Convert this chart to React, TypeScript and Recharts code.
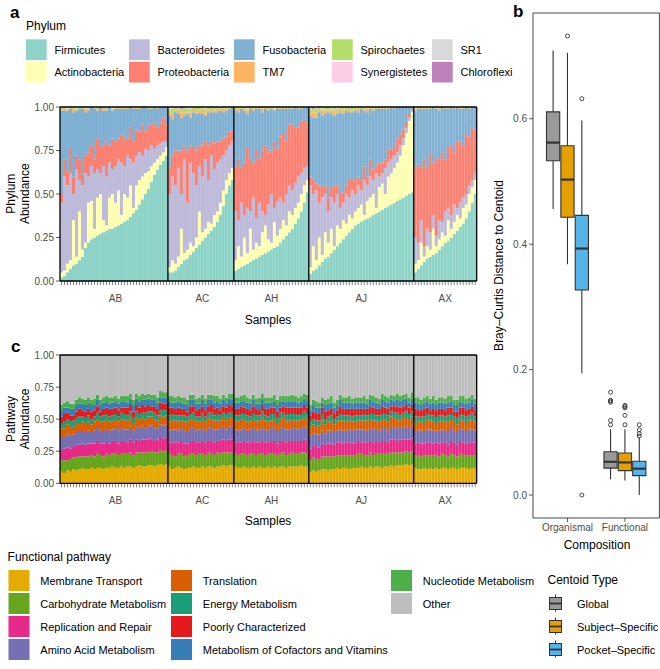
import React from 'react';
import { BarChart, Bar, XAxis, YAxis, ReferenceArea, ReferenceLine, ComposedChart, Scatter } from 'recharts';

const FONT = '"Liberation Sans", Arial, Helvetica, sans-serif';

// ---------------- facets (subjects) ----------------
const facets = ['AB', 'AC', 'AH', 'AJ', 'AX'];

// ---------------- panel a: phylum relative abundance (percent) ----------------
const phylumNames = ['Firmicutes', 'Actinobacteria', 'Bacteroidetes', 'Proteobacteria', 'Fusobacteria', 'TM7', 'Spirochaetes', 'Synergistetes', 'SR1', 'Chloroflexi'];
const phylumColors = ['#8DD3C7', '#FFFFB3', '#BEBADA', '#FB8072', '#80B1D3', '#FDB462', '#B3DE69', '#FCCDE5', '#D9D9D9', '#BC80BD'];

const firmicutes: Record<string, number[]> = {
  AB: [2, 3, 5, 7, 9, 10, 12, 14, 19, 22, 24, 25, 26, 27, 28, 29, 30, 30, 31, 32, 33, 34, 35, 37, 39, 41, 44, 47, 50, 53, 57, 61, 64, 67, 69, 72],
  AC: [5, 5, 6, 8, 10, 12, 13, 15, 17, 19, 21, 23, 25, 27, 29, 31, 34, 38, 43, 50, 55, 58],
  AH: [6, 7, 8, 9, 10, 11, 12, 13, 14, 15, 16, 17, 18, 19, 20, 22, 24, 26, 28, 30, 33, 36, 40, 45, 51],
  AJ: [4, 6, 7, 9, 11, 13, 14, 16, 18, 20, 22, 24, 26, 28, 30, 32, 33, 34, 35, 36, 37, 38, 39, 40, 41, 42, 43, 44, 45, 46, 47, 48, 49, 50, 51],
  AX: [5, 7, 9, 11, 13, 14, 15, 16, 18, 20, 22, 23, 25, 27, 29, 31, 33, 36, 40, 45, 50],
};
const actinobacteria: Record<string, number[]> = {
  AB: [3, 3, 5, 5, 26, 4, 28, 4, 3, 23, 22, 5, 22, 23, 7, 3, 18, 20, 14, 20, 5, 16, 13, 18, 3, 14, 14, 13, 12, 10, 9, 7, 6, 5, 5, 5],
  AC: [3, 7, 4, 6, 20, 4, 5, 7, 3, 6, 19, 5, 5, 7, 4, 7, 6, 7, 9, 8, 7, 7],
  AH: [6, 13, 6, 16, 6, 19, 6, 9, 6, 13, 16, 7, 4, 15, 6, 8, 11, 6, 12, 8, 9, 9, 10, 10, 7],
  AJ: [4, 14, 5, 16, 4, 15, 8, 14, 2, 12, 8, 11, 7, 10, 6, 8, 9, 10, 3, 10, 11, 12, 3, 14, 15, 8, 17, 18, 20, 22, 25, 30, 36, 42, 46],
  AX: [5, 5, 13, 3, 7, 4, 15, 4, 6, 8, 4, 12, 5, 7, 9, 5, 9, 8, 10, 9, 8],
};
const bacteroidetes: Record<string, number[]> = {
  AB: [40, 54, 45, 50, 15, 50, 18, 37, 40, 15, 20, 32, 16, 12, 31, 28, 20, 14, 21, 18, 30, 16, 24, 15, 26, 17, 16, 12, 14, 12, 12, 8, 8, 7, 6, 3],
  AC: [42, 48, 45, 51, 20, 54, 27, 46, 42, 30, 26, 32, 40, 24, 39, 26, 28, 25, 20, 17, 16, 15],
  AH: [28, 15, 31, 13, 26, 10, 30, 14, 25, 12, 6, 20, 28, 8, 20, 18, 10, 18, 15, 14, 14, 15, 12, 10, 8],
  AJ: [47, 30, 40, 20, 33, 22, 18, 18, 25, 18, 12, 10, 17, 10, 16, 10, 13, 8, 20, 9, 12, 8, 20, 6, 6, 15, 8, 8, 7, 6, 6, 4, 3, 2, 1],
  AX: [15, 10, 13, 6, 10, 10, 8, 6, 11, 6, 14, 7, 8, 10, 4, 9, 6, 6, 5, 4, 4],
};
const proteobacteria: Record<string, number[]> = {
  AB: [5, 10, 8, 15, 10, 8, 12, 6, 10, 14, 12, 8, 18, 15, 12, 20, 10, 18, 14, 12, 16, 15, 10, 18, 12, 15, 12, 18, 10, 14, 12, 15, 10, 12, 14, 10],
  AC: [15, 12, 20, 10, 25, 8, 30, 10, 15, 20, 12, 18, 10, 20, 8, 15, 12, 10, 10, 8, 8, 6],
  AH: [25, 35, 20, 30, 35, 30, 20, 40, 25, 35, 40, 30, 25, 38, 30, 35, 40, 30, 35, 38, 32, 28, 30, 28, 25],
  AJ: [5, 8, 4, 10, 6, 5, 8, 6, 10, 5, 8, 6, 5, 10, 6, 8, 5, 6, 8, 5, 10, 6, 5, 8, 6, 5, 8, 6, 5, 8, 6, 5, 4, 2, 1],
  AX: [40, 45, 30, 50, 35, 45, 30, 45, 35, 40, 30, 35, 40, 30, 38, 35, 30, 35, 28, 30, 25],
};
const tm7: Record<string, number[]> = {
  AB: [1, 2, 0, 1, 2, 1, 0, 1, 2, 1, 0, 1, 1, 0, 2, 1, 0, 1, 0, 1, 1, 0, 1, 0, 1, 0, 1, 0, 0, 1, 0, 0, 1, 0, 0, 0],
  AC: [2, 3, 1, 2, 3, 2, 1, 3, 2, 1, 2, 3, 2, 1, 2, 1, 2, 1, 2, 1, 1, 0],
  AH: [1, 2, 1, 1, 2, 1, 1, 0, 1, 2, 1, 1, 0, 1, 1, 0, 1, 1, 0, 1, 0, 1, 0, 0, 0],
  AJ: [2, 3, 2, 1, 3, 2, 1, 2, 3, 1, 2, 2, 1, 2, 1, 1, 2, 1, 1, 2, 1, 1, 0, 1, 1, 0, 1, 0, 1, 0, 0, 0, 0, 0, 0],
  AX: [1, 0, 1, 1, 0, 1, 0, 1, 1, 0, 1, 0, 0, 1, 0, 1, 0, 0, 1, 0, 0],
};
const spirochaetes: Record<string, number[]> = {
  AB: [1, 0, 1, 0, 1, 0, 1, 0, 0, 1, 0, 0, 1, 0, 0, 1, 0, 0, 1, 0, 0, 1, 0, 0, 0, 1, 0, 0, 0, 0, 1, 0, 0, 0, 0, 0],
  AC: [2, 3, 2, 1, 2, 3, 2, 2, 1, 3, 2, 1, 2, 2, 1, 2, 1, 1, 1, 1, 0, 0],
  AH: [1, 1, 0, 1, 1, 0, 1, 1, 0, 1, 0, 1, 1, 0, 0, 1, 0, 0, 1, 0, 0, 0, 1, 0, 0],
  AJ: [2, 2, 3, 2, 1, 2, 2, 1, 2, 2, 1, 2, 1, 1, 2, 1, 1, 0, 1, 1, 0, 1, 1, 0, 0, 1, 0, 0, 0, 0, 0, 0, 0, 0, 0],
  AX: [0, 1, 0, 0, 1, 0, 0, 0, 1, 0, 0, 1, 0, 0, 0, 0, 1, 0, 0, 0, 0],
};
const synergistetes: Record<string, number[]> = {
  AB: [0, 0, 1, 0, 0, 0, 0, 0, 1, 0, 0, 0, 0, 0, 0, 0, 0, 1, 0, 0, 0, 0, 0, 0, 0, 0, 0, 0, 0, 0, 0, 0, 0, 0, 0, 0],
  AC: [1, 0, 0, 1, 0, 0, 0, 1, 0, 0, 0, 0, 1, 0, 0, 0, 0, 0, 0, 0, 0, 0],
  AH: [0, 0, 0, 0, 1, 0, 0, 0, 0, 0, 0, 0, 0, 1, 0, 0, 0, 0, 0, 0, 0, 0, 0, 0, 0],
  AJ: [1, 0, 0, 0, 1, 0, 0, 0, 0, 1, 0, 0, 0, 0, 0, 0, 0, 0, 0, 0, 0, 0, 0, 0, 0, 0, 0, 0, 0, 0, 0, 0, 0, 0, 0],
  AX: [1, 0, 0, 0, 0, 0, 0, 0, 0, 0, 0, 0, 0, 0, 0, 0, 0, 0, 0, 0, 0],
};
const sr1: Record<string, number[]> = {
  AB: [0, 0, 0, 0, 0, 1, 0, 0, 0, 0, 0, 0, 0, 0, 0, 0, 0, 0, 0, 0, 0, 0, 0, 0, 0, 0, 0, 0, 0, 0, 0, 0, 0, 0, 0, 0],
  AC: [0, 1, 0, 0, 0, 0, 1, 0, 0, 0, 0, 0, 0, 0, 0, 0, 0, 0, 0, 0, 0, 0],
  AH: [0, 0, 0, 0, 0, 0, 0, 0, 0, 0, 0, 0, 0, 0, 0, 0, 0, 0, 0, 0, 0, 0, 0, 0, 0],
  AJ: [0, 0, 1, 0, 0, 0, 0, 1, 0, 0, 0, 0, 0, 0, 0, 0, 0, 0, 0, 0, 0, 0, 0, 0, 0, 0, 0, 0, 0, 0, 0, 0, 0, 0, 0],
  AX: [0, 0, 0, 0, 0, 0, 0, 0, 0, 0, 0, 0, 0, 0, 0, 0, 0, 0, 0, 0, 0],
};
const chloroflexi: Record<string, number[]> = {
  AB: [0, 0, 0, 0, 0, 0, 0, 0, 0, 0, 0, 0, 0, 0, 0, 0, 0, 0, 0, 0, 0, 0, 0, 0, 0, 0, 0, 0, 0, 0, 0, 0, 0, 0, 0, 0],
  AC: [0, 0, 0, 0, 1, 0, 0, 0, 0, 0, 0, 0, 0, 0, 0, 0, 0, 0, 0, 0, 0, 0],
  AH: [0, 0, 0, 0, 0, 0, 0, 0, 0, 0, 0, 0, 0, 0, 0, 0, 0, 0, 0, 0, 0, 0, 0, 0, 0],
  AJ: [0, 1, 0, 0, 0, 0, 0, 0, 0, 0, 0, 0, 0, 0, 0, 0, 0, 0, 0, 0, 0, 0, 0, 0, 0, 0, 0, 0, 0, 0, 0, 0, 0, 0, 0],
  AX: [0, 0, 0, 0, 0, 0, 0, 0, 0, 0, 0, 0, 0, 0, 0, 0, 0, 0, 0, 0, 0],
};

// ---------------- panel c: functional pathway abundance (percent) ----------------
const pathwayNames = ['Membrane Transport', 'Carbohydrate Metabolism', 'Replication and Repair', 'Amino Acid Metabolism', 'Translation', 'Energy Metabolism', 'Poorly Characterized', 'Metabolism of Cofactors and Vitamins', 'Nucleotide Metabolism', 'Other'];
const pathwayColors = ['#E6AB02', '#66A61E', '#E7298A', '#7570B3', '#D95F02', '#1B9E77', '#E41A1C', '#377EB8', '#4DAF4A', '#BEBEBE'];

const membraneTransport: Record<string, number[]> = {
  AB: [9, 8, 10, 9, 11, 10, 11, 12, 11, 11, 12, 11, 12, 12, 11, 12, 12, 13, 12, 12, 13, 12, 13, 13, 12, 13, 14, 13, 13, 14, 14, 13, 14, 15, 14, 15],
  AC: [13, 11, 12, 13, 12, 11, 12, 12, 13, 12, 12, 13, 12, 13, 13, 12, 13, 13, 14, 13, 14, 14],
  AH: [13, 12, 12, 13, 12, 12, 13, 12, 13, 12, 12, 13, 12, 13, 12, 13, 13, 12, 13, 13, 13, 13, 14, 13, 13],
  AJ: [9, 10, 9, 10, 11, 11, 10, 11, 11, 12, 11, 12, 12, 11, 12, 12, 12, 13, 12, 12, 13, 12, 13, 13, 12, 13, 13, 14, 13, 14, 14, 14, 15, 14, 15],
  AX: [12, 11, 11, 12, 11, 12, 11, 12, 11, 12, 12, 11, 12, 12, 11, 12, 12, 12, 11, 12, 12],
};
const carbohydrate: Record<string, number[]> = {
  AB: [9, 10, 8, 10, 9, 10, 10, 9, 10, 10, 10, 10, 11, 10, 10, 11, 10, 10, 11, 10, 10, 11, 10, 11, 10, 11, 10, 11, 11, 10, 11, 11, 10, 11, 11, 11],
  AC: [10, 11, 9, 10, 11, 10, 10, 11, 10, 10, 11, 10, 10, 11, 10, 10, 11, 10, 10, 11, 10, 10],
  AH: [10, 10, 11, 10, 10, 11, 10, 10, 10, 11, 10, 10, 11, 10, 10, 10, 11, 10, 10, 11, 10, 10, 10, 11, 10],
  AJ: [9, 10, 10, 9, 10, 10, 11, 10, 10, 10, 11, 10, 10, 11, 10, 10, 11, 10, 10, 10, 11, 10, 10, 10, 11, 10, 10, 10, 11, 10, 10, 10, 10, 10, 10],
  AX: [10, 11, 10, 10, 11, 10, 11, 10, 10, 11, 10, 10, 11, 10, 10, 11, 10, 10, 11, 10, 10],
};
const replication: Record<string, number[]> = {
  AB: [8, 9, 10, 8, 9, 10, 9, 10, 9, 10, 9, 10, 10, 9, 10, 10, 9, 10, 10, 9, 10, 10, 9, 10, 10, 10, 9, 10, 10, 10, 10, 9, 10, 10, 10, 10],
  AC: [9, 10, 11, 9, 10, 10, 9, 10, 10, 10, 9, 10, 10, 9, 10, 10, 9, 10, 10, 9, 10, 10],
  AH: [9, 10, 9, 10, 10, 9, 10, 10, 9, 10, 10, 9, 10, 10, 9, 10, 9, 10, 10, 9, 10, 10, 9, 10, 10],
  AJ: [9, 9, 10, 9, 10, 9, 10, 10, 9, 10, 10, 9, 10, 10, 9, 10, 10, 9, 10, 10, 9, 10, 10, 9, 10, 10, 9, 10, 10, 9, 10, 10, 9, 10, 10],
  AX: [9, 10, 10, 9, 10, 10, 9, 10, 10, 9, 10, 9, 10, 10, 9, 10, 10, 9, 10, 10, 10],
};
const aminoAcid: Record<string, number[]> = {
  AB: [10, 9, 10, 10, 9, 10, 10, 9, 10, 10, 9, 10, 10, 10, 9, 10, 10, 9, 10, 10, 10, 9, 10, 10, 9, 10, 10, 10, 9, 10, 10, 10, 9, 10, 10, 10],
  AC: [9, 10, 10, 9, 10, 10, 9, 10, 10, 9, 10, 10, 9, 10, 10, 10, 9, 10, 10, 9, 10, 10],
  AH: [10, 9, 10, 10, 9, 10, 10, 9, 10, 10, 10, 9, 10, 10, 9, 10, 10, 10, 9, 10, 10, 9, 10, 10, 10],
  AJ: [10, 10, 9, 10, 10, 9, 10, 10, 10, 9, 10, 10, 9, 10, 10, 10, 9, 10, 10, 9, 10, 10, 10, 9, 10, 10, 9, 10, 10, 10, 9, 10, 10, 9, 10],
  AX: [9, 10, 10, 9, 10, 10, 10, 9, 10, 10, 9, 10, 10, 9, 10, 10, 10, 9, 10, 10, 9],
};
const translation: Record<string, number[]> = {
  AB: [7, 7, 8, 7, 6, 7, 7, 8, 7, 7, 6, 7, 7, 7, 8, 7, 7, 6, 7, 7, 7, 8, 7, 7, 6, 7, 7, 7, 7, 8, 7, 7, 6, 7, 7, 7],
  AC: [7, 8, 7, 7, 6, 7, 8, 7, 7, 7, 6, 7, 7, 8, 7, 7, 7, 6, 7, 7, 7, 7],
  AH: [7, 7, 8, 7, 7, 6, 7, 7, 7, 8, 7, 7, 6, 7, 7, 7, 8, 7, 7, 7, 6, 7, 7, 7, 7],
  AJ: [7, 7, 6, 7, 8, 7, 7, 7, 6, 7, 7, 8, 7, 7, 7, 6, 7, 7, 7, 8, 7, 7, 6, 7, 7, 7, 7, 8, 7, 7, 6, 7, 7, 7, 7],
  AX: [7, 6, 7, 7, 8, 7, 7, 6, 7, 7, 7, 8, 7, 7, 6, 7, 7, 7, 7, 8, 7],
};
const energy: Record<string, number[]> = {
  AB: [4, 5, 4, 4, 5, 4, 5, 4, 4, 5, 4, 4, 5, 4, 5, 4, 4, 5, 4, 4, 5, 4, 4, 5, 4, 5, 4, 4, 5, 4, 4, 5, 4, 4, 5, 4],
  AC: [5, 4, 4, 5, 4, 5, 4, 4, 5, 4, 4, 5, 4, 4, 5, 4, 5, 4, 4, 5, 4, 4],
  AH: [4, 5, 4, 4, 5, 4, 4, 5, 4, 5, 4, 4, 5, 4, 4, 5, 4, 4, 5, 4, 5, 4, 4, 5, 4],
  AJ: [4, 4, 5, 4, 5, 4, 4, 5, 4, 4, 5, 4, 5, 4, 4, 5, 4, 4, 5, 4, 4, 5, 4, 5, 4, 4, 5, 4, 4, 5, 4, 4, 5, 4, 4],
  AX: [5, 4, 4, 5, 4, 4, 5, 4, 5, 4, 4, 5, 4, 4, 5, 4, 4, 5, 4, 5, 4],
};
const poorlyCharacterized: Record<string, number[]> = {
  AB: [5, 6, 5, 5, 4, 5, 6, 5, 5, 5, 6, 5, 5, 4, 5, 5, 6, 5, 5, 5, 4, 5, 6, 5, 5, 5, 5, 6, 5, 5, 4, 5, 5, 6, 5, 5],
  AC: [6, 5, 5, 6, 5, 5, 4, 6, 5, 5, 6, 5, 5, 5, 6, 5, 5, 4, 5, 5, 6, 5],
  AH: [5, 5, 6, 5, 5, 5, 6, 5, 4, 5, 5, 6, 5, 5, 5, 4, 5, 6, 5, 5, 5, 6, 5, 5, 5],
  AJ: [5, 6, 5, 5, 5, 6, 5, 5, 4, 5, 6, 5, 5, 5, 6, 5, 5, 5, 4, 5, 6, 5, 5, 5, 6, 5, 5, 4, 5, 5, 6, 5, 5, 5, 5],
  AX: [6, 5, 5, 6, 5, 4, 5, 6, 5, 5, 5, 6, 5, 4, 5, 5, 6, 5, 5, 5, 5],
};
const cofactors: Record<string, number[]> = {
  AB: [5, 5, 4, 5, 5, 5, 4, 5, 5, 5, 5, 4, 5, 5, 5, 5, 4, 5, 5, 5, 5, 5, 4, 5, 5, 5, 5, 4, 5, 5, 5, 5, 5, 4, 5, 5],
  AC: [5, 4, 5, 5, 5, 4, 5, 5, 5, 5, 4, 5, 5, 5, 4, 5, 5, 5, 5, 4, 5, 5],
  AH: [5, 5, 4, 5, 5, 5, 5, 4, 5, 5, 5, 5, 4, 5, 5, 5, 4, 5, 5, 5, 5, 4, 5, 5, 5],
  AJ: [4, 5, 5, 5, 4, 5, 5, 5, 5, 4, 5, 5, 5, 5, 4, 5, 5, 5, 5, 4, 5, 5, 5, 4, 5, 5, 5, 5, 4, 5, 5, 5, 5, 4, 5],
  AX: [5, 5, 4, 5, 5, 5, 5, 4, 5, 5, 5, 4, 5, 5, 5, 5, 4, 5, 5, 5, 5],
};
const nucleotide: Record<string, number[]> = {
  AB: [4, 4, 5, 4, 4, 4, 5, 4, 4, 4, 4, 5, 4, 4, 4, 4, 5, 4, 4, 4, 4, 4, 5, 4, 4, 4, 4, 5, 4, 4, 4, 4, 4, 5, 4, 4],
  AC: [4, 5, 4, 4, 4, 5, 4, 4, 4, 4, 5, 4, 4, 4, 4, 5, 4, 4, 4, 4, 4, 5],
  AH: [4, 4, 4, 5, 4, 4, 4, 4, 5, 4, 4, 4, 4, 5, 4, 4, 4, 4, 4, 5, 4, 4, 4, 4, 5],
  AJ: [4, 4, 5, 4, 4, 4, 4, 5, 4, 4, 4, 4, 4, 5, 4, 4, 4, 4, 5, 4, 4, 4, 4, 4, 5, 4, 4, 4, 4, 5, 4, 4, 4, 4, 5],
  AX: [4, 5, 4, 4, 4, 4, 5, 4, 4, 4, 4, 5, 4, 4, 4, 4, 5, 4, 4, 4, 4],
};

// ---------------- panel b: Bray-Curtis distance to centroid ----------------
const compositions = ['Organismal', 'Functional'];
const centroidTypes = ['Global', 'Subject\u2013Specific', 'Pocket\u2013Specific'];
const centroidColors = ['#999999', '#E69F00', '#56B4E9'];
// [centroid type][composition]
const whiskerLow = [[0.456, 0.025], [0.368, 0.023], [0.194, 0.0]];
const quartile1 = [[0.533, 0.043], [0.443, 0.039], [0.327, 0.031]];
const medianValue = [[0.562, 0.053], [0.503, 0.052], [0.393, 0.042]];
const quartile3 = [[0.611, 0.069], [0.557, 0.067], [0.446, 0.054]];
const whiskerHigh = [[0.709, 0.105], [0.705, 0.105], [0.597, 0.092]];
const outlierValues = [
  [[], [0.112, 0.119, 0.148, 0.150, 0.151, 0.164]],
  [[0.732], [0.112, 0.127, 0.139, 0.141, 0.143]],
  [[0.632, 0.0], [0.094, 0.098, 0.104, 0.112]],
];

// ---------------- build tables ----------------
const at = (a: number[], i: number) => (a && a[i] !== undefined ? a[i] : 0);

const sampleIds: Record<string, string[]> = {};
const facetLabelById: Record<string, string> = {};
facets.forEach((f) => {
  const n = firmicutes[f].length;
  sampleIds[f] = Array.from({ length: n }, (_, i) => `${f}${i + 1}`);
  facetLabelById[sampleIds[f][Math.floor(n / 2)]] = f;
});
const lastFacet = facets[facets.length - 1];
const lastSampleId = sampleIds[lastFacet][sampleIds[lastFacet].length - 1];

const phylumRows: any[] = [];
facets.forEach((f) => {
  sampleIds[f].forEach((id, i) => {
    const v: Record<string, number> = {
      Firmicutes: at(firmicutes[f], i),
      Actinobacteria: at(actinobacteria[f], i),
      Bacteroidetes: at(bacteroidetes[f], i),
      Proteobacteria: at(proteobacteria[f], i),
      TM7: at(tm7[f], i),
      Spirochaetes: at(spirochaetes[f], i),
      Synergistetes: at(synergistetes[f], i),
      SR1: at(sr1[f], i),
      Chloroflexi: at(chloroflexi[f], i),
    };
    const known = Object.values(v).reduce((s, x) => s + x, 0);
    v.Fusobacteria = Math.max(0, 100 - known);
    const row: any = { id, facet: f };
    phylumNames.forEach((p) => (row[p] = v[p] / 100));
    phylumRows.push(row);
  });
});

const pathwayTables = [membraneTransport, carbohydrate, replication, aminoAcid, translation, energy, poorlyCharacterized, cofactors, nucleotide];
const pathwayRows: any[] = [];
facets.forEach((f) => {
  sampleIds[f].forEach((id, i) => {
    const row: any = { id, facet: f };
    let total = 0;
    pathwayTables.forEach((t, k) => {
      const val = at(t[f], i);
      total += val;
      row[pathwayNames[k]] = val / 100;
    });
    row['Other'] = Math.max(0, 100 - total) / 100;
    pathwayRows.push(row);
  });
});

const DODGE = 0.25;
const HALF = 0.115;
const boxes: { t: number; c: number; cx: number }[] = [];
centroidTypes.forEach((_, t) => compositions.forEach((__, c) => boxes.push({ t, c, cx: c + 1 + (t - 1) * DODGE })));
const outlierData: { x: number; y: number }[] = [];
boxes.forEach((b) => outlierValues[b.t][b.c].forEach((y) => outlierData.push({ x: b.cx, y })));

// ---------------- components ----------------
const tickStyle = { fontSize: 10, fill: '#4D4D4D', fontFamily: FONT };

function StackPanel({ plotTop, plotH, rows, names, colors }: any) {
  const mTop = 6;
  return (
    <div style={{ position: 'absolute', left: 0, top: plotTop - mTop }}>
      <BarChart width={480} height={mTop + plotH + 40} data={rows} margin={{ top: mTop, right: 3.3, bottom: 0, left: 0 }} barCategoryGap={0} barGap={0}>
        <XAxis dataKey="id" type="category" interval={0} height={40} tickSize={4} tickMargin={10} axisLine={false}
          tickLine={{ stroke: '#333', strokeWidth: 0.6 }} tick={tickStyle} tickFormatter={(v: string) => facetLabelById[v] || ''} />
        <YAxis type="number" domain={[0, 1]} ticks={[0, 0.25, 0.5, 0.75, 1]} width={60} tickSize={4} tickMargin={2}
          axisLine={false} tickLine={{ stroke: '#333', strokeWidth: 0.8 }} tick={tickStyle} tickFormatter={(v: number) => v.toFixed(2)} />
        {names.map((k: string, i: number) => (
          <Bar key={k} dataKey={k} stackId="s" fill={colors[i]} isAnimationActive={false} />
        ))}
        {/* facet panel borders */}
        <ReferenceLine y={1} stroke="#000" strokeWidth={1.3} ifOverflow="visible" zIndex={2000} />
        <ReferenceLine y={0} stroke="#000" strokeWidth={1.3} ifOverflow="visible" zIndex={2000} />
        {facets.map((f) => (
          <ReferenceLine key={f} x={sampleIds[f][0]} position="start" stroke="#000" strokeWidth={1.3} ifOverflow="visible" zIndex={2000} />
        ))}
        <ReferenceLine x={lastSampleId} position="end" stroke="#000" strokeWidth={1.3} ifOverflow="visible" zIndex={2000} />
      </BarChart>
    </div>
  );
}

function BoxPanel() {
  return (
    <div style={{ position: 'absolute', left: 480, top: 0 }}>
      <ComposedChart width={180} height={560} margin={{ top: 13, right: 0.6, bottom: 0, left: 0 }}>
        <XAxis dataKey="x" type="number" domain={[0.4, 2.6]} ticks={[1, 2]} allowDataOverflow height={42} tickSize={4} tickMargin={2}
          axisLine={false} tickLine={{ stroke: '#333', strokeWidth: 0.8 }} tick={tickStyle}
          tickFormatter={(v: number) => compositions[v - 1] || ''} />
        <YAxis dataKey="y" type="number" domain={[-0.0366, 0.7686]} ticks={[0, 0.2, 0.4, 0.6]} allowDataOverflow width={53} tickSize={4} tickMargin={2}
          axisLine={false} tickLine={{ stroke: '#333', strokeWidth: 0.8 }} tick={tickStyle} tickFormatter={(v: number) => v.toFixed(1)} />
        <ReferenceArea x1={0.4} x2={2.6} y1={-0.0366} y2={0.7686} fill="none" fillOpacity={0} stroke="#333" strokeWidth={0.9} ifOverflow="visible" />
        {boxes.map((b) => (
          <ReferenceLine key={`wl${b.t}${b.c}`} segment={[{ x: b.cx, y: whiskerLow[b.t][b.c] }, { x: b.cx, y: quartile1[b.t][b.c] }]} stroke="#333" strokeWidth={1.1} ifOverflow="visible" />
        ))}
        {boxes.map((b) => (
          <ReferenceLine key={`wh${b.t}${b.c}`} segment={[{ x: b.cx, y: quartile3[b.t][b.c] }, { x: b.cx, y: whiskerHigh[b.t][b.c] }]} stroke="#333" strokeWidth={1.1} ifOverflow="visible" />
        ))}
        {boxes.map((b) => (
          <ReferenceArea key={`bx${b.t}${b.c}`} x1={b.cx - HALF} x2={b.cx + HALF} y1={quartile1[b.t][b.c]} y2={quartile3[b.t][b.c]}
            fill={centroidColors[b.t]} fillOpacity={1} stroke="#333" strokeWidth={1.1} ifOverflow="visible" />
        ))}
        {boxes.map((b) => (
          <ReferenceLine key={`md${b.t}${b.c}`} segment={[{ x: b.cx - HALF, y: medianValue[b.t][b.c] }, { x: b.cx + HALF, y: medianValue[b.t][b.c] }]} stroke="#333" strokeWidth={2.2} ifOverflow="visible" />
        ))}
        <Scatter data={outlierData} dataKey="y" isAnimationActive={false}
          shape={(p: any) => <circle cx={p.cx} cy={p.cy} r={2} fill="none" stroke="#333" strokeWidth={0.9} />} />
      </ComposedChart>
    </div>
  );
}

const phylumLegendCols = [26, 129, 234, 332, 432];
const pathwayLegendCols = [8.5, 171, 391];

export default function App() {
  return (
    <div style={{ position: 'absolute', left: 0, top: 0, width: 660, height: 669, background: '#fff', overflow: 'hidden', fontFamily: FONT }}>
      <svg width={660} height={669} style={{ position: 'absolute', left: 0, top: 0 }} fontFamily={FONT}>
        {/* panel letters */}
        <text x={10} y={18} fontSize={17} fontWeight="bold">a</text>
        <text x={513} y={17} fontSize={17} fontWeight="bold">b</text>
        <text x={11} y={352} fontSize={17} fontWeight="bold">c</text>

        {/* Phylum legend */}
        <text x={26} y={30} fontSize={12}>Phylum</text>
        {phylumNames.map((p, i) => {
          const col = Math.floor(i / 2);
          const row = i % 2;
          const x = phylumLegendCols[col];
          const y = 39.3 + row * 22.5;
          return (
            <g key={p}>
              <rect x={x} y={y} width={20.7} height={20.7} fill={phylumColors[i]} />
              <text x={x + 28.5} y={y + 14.2} fontSize={11}>{p}</text>
            </g>
          );
        })}

        {/* axis titles panel a */}
        <text transform="translate(14.5,193.7) rotate(-90)" textAnchor="middle" fontSize={12}>Phylum</text>
        <text transform="translate(28.5,193.7) rotate(-90)" textAnchor="middle" fontSize={12}>Abundance</text>
        <text x={268} y={323.5} textAnchor="middle" fontSize={12}>Samples</text>

        {/* axis titles panel c */}
        <text transform="translate(14.5,419) rotate(-90)" textAnchor="middle" fontSize={12}>Pathway</text>
        <text transform="translate(28.5,419) rotate(-90)" textAnchor="middle" fontSize={12}>Abundance</text>
        <text x={268} y={525} textAnchor="middle" fontSize={12}>Samples</text>

        {/* axis titles panel b */}
        <text transform="translate(502.5,265.5) rotate(-90)" textAnchor="middle" fontSize={12}>Bray–Curtis Distance to Centoid</text>
        <text x={597} y={549} textAnchor="middle" fontSize={12}>Composition</text>

        {/* Functional pathway legend */}
        <text x={7.6} y={560.5} fontSize={12}>Functional pathway</text>
        {pathwayNames.map((p, i) => {
          const col = Math.floor(i / 4);
          const row = i % 4;
          const x = pathwayLegendCols[col];
          const y = 570 + row * 23;
          return (
            <g key={p}>
              <rect x={x} y={y} width={21} height={21} fill={pathwayColors[i]} />
              <text x={x + 31.8} y={y + 14.5} fontSize={11}>{p}</text>
            </g>
          );
        })}

        {/* Centroid type legend */}
        <text x={547.5} y={584} fontSize={12}>Centoid Type</text>
        {centroidTypes.map((c, i) => {
          const cy = 603.5 + i * 23;
          return (
            <g key={c}>
              <line x1={555.5} x2={555.5} y1={cy - 9} y2={cy + 8} stroke="#333" strokeWidth={1} />
              <rect x={549.5} y={cy - 6} width={12} height={12} fill={centroidColors[i]} stroke="#333" strokeWidth={1} />
              <line x1={549.5} x2={561.5} y1={cy} y2={cy} stroke="#333" strokeWidth={1.8} />
              <text x={577} y={cy + 4} fontSize={11}>{c}</text>
            </g>
          );
        })}
      </svg>

      <StackPanel plotTop={106.7} plotH={174} rows={phylumRows} names={phylumNames} colors={phylumColors} />
      <StackPanel plotTop={355} plotH={128.3} rows={pathwayRows} names={pathwayNames} colors={pathwayColors} />
      <BoxPanel />
    </div>
  );
}
